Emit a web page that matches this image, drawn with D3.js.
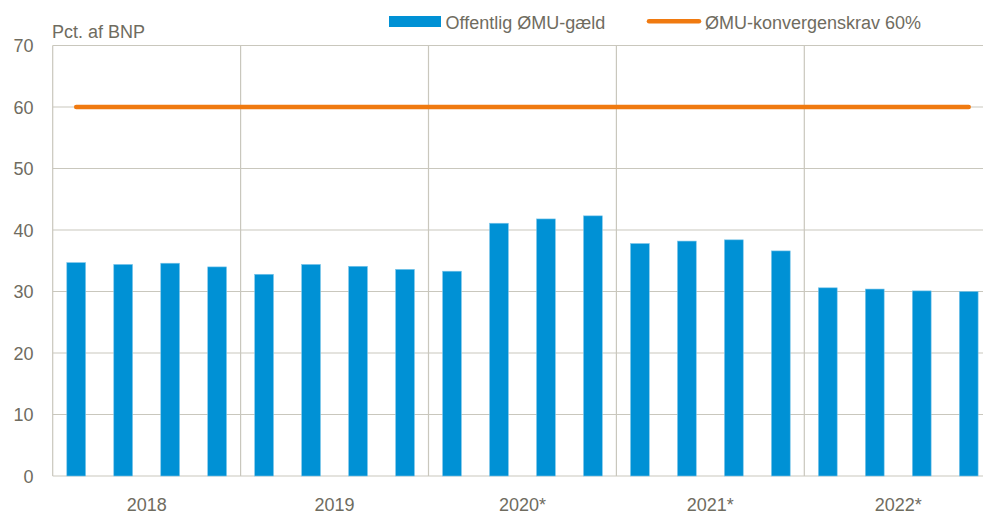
<!DOCTYPE html>
<html>
<head>
<meta charset="utf-8">
<script src="https://cdn.jsdelivr.net/npm/d3@7"></script>
<style>
  body { margin: 0; background: #fff; }
  svg { display: block; font-family: "Liberation Sans", Arial, sans-serif; }
</style>
</head>
<body>
<svg id="chart" width="983" height="515"></svg>
<script>
// Data
const years = ['2018', '2019', '2020*', '2021*', '2022*'];
const quarters = ['2018K1', '2018K2', '2018K3', '2018K4',
                  '2019K1', '2019K2', '2019K3', '2019K4',
                  '2020K1', '2020K2', '2020K3', '2020K4',
                  '2021K1', '2021K2', '2021K3', '2021K4',
                  '2022K1', '2022K2', '2022K3', '2022K4'];
const debt = [34.7, 34.4, 34.6, 34.0,
              32.8, 34.4, 34.1, 33.6,
              33.3, 41.1, 41.8, 42.3,
              37.8, 38.2, 38.4, 36.6,
              30.6, 30.4, 30.1, 30.0];
const convergence = quarters.map(() => 60);
const yTicks = [0, 10, 20, 30, 40, 50, 60, 70];

// Layout
const plot = { left: 52.7, right: 992.2, top: 45.5, bottom: 476 };
const textColor = '#6f6c5f';
const gridColor = '#c9c7bd';
const barColor = '#0091d5';
const lineColor = '#f07a10';

const svg = d3.select('#chart');

const y = d3.scaleLinear().domain([0, 70]).range([plot.bottom, plot.top]);
const x = d3.scaleBand().domain(quarters).range([plot.left, plot.right])
    .paddingInner(0.6).paddingOuter(0.3);
const xYear = d3.scaleBand().domain(years).range([plot.left, plot.right]);

// Horizontal gridlines
svg.append('g')
    .selectAll('line')
    .data(yTicks)
    .enter()
    .append('line')
    .attr('x1', plot.left)
    .attr('x2', 983)
    .attr('y1', d => y(d))
    .attr('y2', d => y(d))
    .attr('stroke', gridColor)
    .attr('stroke-width', 1.2);

// Year dividers
svg.append('g')
    .selectAll('line')
    .data(years)
    .enter()
    .append('line')
    .attr('x1', d => xYear(d))
    .attr('x2', d => xYear(d))
    .attr('y1', plot.top)
    .attr('y2', plot.bottom)
    .attr('stroke', gridColor)
    .attr('stroke-width', 1.2);

// Y tick labels
svg.append('g')
    .selectAll('text')
    .data(yTicks)
    .enter()
    .append('text')
    .attr('x', 33.5)
    .attr('y', d => y(d) + 6.5)
    .attr('text-anchor', 'end')
    .attr('fill', textColor)
    .style('font-size', '18px')
    .text(d => d);

// Bars
svg.append('g')
    .selectAll('rect')
    .data(debt)
    .enter()
    .append('rect')
    .attr('x', (d, i) => x(quarters[i]))
    .attr('y', d => y(d))
    .attr('width', x.bandwidth())
    .attr('height', d => y(0) - y(d))
    .attr('fill', barColor)
    .attr('stroke', '#7cc6ea')
    .attr('stroke-width', 0.6);

// Convergence line
const line = d3.line()
    .x((d, i) => x(quarters[i]) + x.bandwidth() / 2)
    .y(d => y(d));

svg.append('path')
    .datum(convergence)
    .attr('d', line)
    .attr('fill', 'none')
    .attr('stroke', lineColor)
    .attr('stroke-width', 4.5)
    .attr('stroke-linecap', 'round');

// Year labels
svg.append('g')
    .selectAll('text')
    .data(years)
    .enter()
    .append('text')
    .attr('x', d => xYear(d) + xYear.bandwidth() / 2)
    .attr('y', 511)
    .attr('text-anchor', 'middle')
    .attr('fill', textColor)
    .style('font-size', '18px')
    .text(d => d);

// Unit label
svg.append('text')
    .attr('x', 52)
    .attr('y', 37.5)
    .attr('fill', textColor)
    .style('font-size', '18px')
    .text('Pct. af BNP');

// Legend
svg.append('rect')
    .attr('x', 389)
    .attr('y', 16)
    .attr('width', 52)
    .attr('height', 11)
    .attr('fill', barColor);

svg.append('text')
    .attr('x', 445.5)
    .attr('y', 28.5)
    .attr('fill', textColor)
    .style('font-size', '18px')
    .text('Offentlig ØMU-gæld');

svg.append('line')
    .attr('x1', 649)
    .attr('x2', 699)
    .attr('y1', 21.3)
    .attr('y2', 21.3)
    .attr('stroke', lineColor)
    .attr('stroke-width', 4.5)
    .attr('stroke-linecap', 'round');

svg.append('text')
    .attr('x', 705)
    .attr('y', 28.5)
    .attr('fill', textColor)
    .style('font-size', '18px')
    .text('ØMU-konvergenskrav 60%');
</script>
</body>
</html>
